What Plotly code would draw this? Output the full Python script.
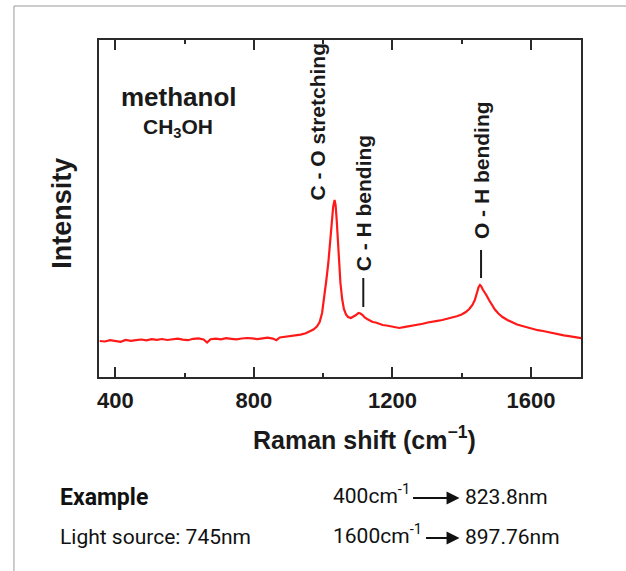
import plotly.graph_objects as go

W, H = 626, 571

# ---- data ----
raman_shift = [355, 370, 385, 400, 415, 430, 445, 460, 475, 490, 505, 520, 535, 550, 565,
               580, 595, 610, 625, 640, 655, 665, 675, 690, 705, 720, 735, 750, 765, 780,
               795, 810, 825, 840, 855, 865, 875, 890, 905, 920, 935, 950, 962, 972, 982,
               990, 997, 1003, 1009, 1015, 1020, 1025, 1029, 1033, 1036, 1039, 1042, 1046,
               1050, 1055, 1060, 1066, 1072, 1080, 1088, 1095, 1102, 1108, 1114, 1120, 1127,
               1135, 1143, 1152, 1162, 1172, 1183, 1195, 1207, 1220, 1233, 1246, 1260, 1274,
               1288, 1302, 1316, 1330, 1344, 1358, 1372, 1386, 1400, 1412, 1422, 1431, 1438,
               1444, 1449, 1453, 1457, 1461, 1466, 1472, 1479, 1487, 1496, 1506, 1518, 1532,
               1546, 1560, 1575, 1590, 1605, 1620, 1635, 1650, 1665, 1680, 1695, 1710, 1725,
               1740, 1745]
intensity = [36.0, 35.5, 36.8, 36.0, 35.2, 37.0, 36.2, 36.8, 37.5, 36.6, 37.8, 37.2, 38.0, 37.0, 37.8,
             38.3, 37.4, 36.8, 38.2, 38.6, 37.5, 34.5, 37.8, 38.4, 37.6, 38.8, 38.2, 37.7, 38.5, 39.0,
             38.6, 37.9, 38.7, 39.3, 38.4, 36.8, 39.5, 40.2, 40.8, 41.5, 42.4, 43.8, 45.5, 47.5, 50.5,
             55.0, 64.0, 78.0, 96.0, 114.0, 134.0, 155.0, 170.0, 177.0, 172.0, 158.0, 138.0, 114.0,
             94.0, 78.0, 68.0, 62.5, 60.0, 59.0, 60.5, 62.0, 64.0, 63.5, 62.0, 59.5, 58.0,
             56.5, 55.0, 54.5, 53.0, 52.0, 51.5, 50.5, 49.5, 49.0, 49.8, 50.5, 51.2, 52.5,
             53.2, 54.5, 55.0, 56.2, 57.0, 58.0, 59.5, 60.8, 62.5, 65.0, 68.0, 72.0, 77.0,
             84.0, 90.0, 92.0, 90.5, 87.5, 85.0, 81.5, 77.0, 72.0, 67.5, 63.5, 60.0, 57.0,
             54.8, 52.5, 51.0, 49.5, 48.0, 46.8, 46.0, 44.8, 43.5, 42.8, 41.6, 40.8, 39.8,
             39.0, 38.8]

x_range = [352, 1745]
y_range = [0, 337]
tick_vals = [400, 800, 1200, 1600]
tick_text = ["<b>400</b>", "<b>800</b>", "<b>1200</b>", "<b>1600</b>"]
minor_tick_vals = [600, 1000, 1400]

peak_labels = ["C - O stretching", "C - H bending", "O - H bending"]
peak_label_x = [981, 1116, 1456]
peak_label_y = [255, 174, 207]
marker_x = [1116, 1456]
marker_y0 = [70, 99]
marker_y1 = [99, 127]

def px(x):
    return x / W

def py(y):
    return 1 - y / H

fig = go.Figure()
fig.add_trace(go.Scatter(x=raman_shift, y=intensity, mode="lines",
                         line=dict(color="#ff1a1a", width=2.2), hoverinfo="skip",
                         showlegend=False))

fig.update_layout(
    width=W, height=H, margin=dict(l=0, r=0, t=0, b=0),
    paper_bgcolor="white", plot_bgcolor="white",
    font=dict(family="Liberation Sans, Arial, sans-serif", color="#1a1a1a"),
    xaxis=dict(domain=[px(97), px(581)], range=x_range, showgrid=False, zeroline=False,
               showline=True, linewidth=2, linecolor="#2a2a2a", mirror="ticks",
               ticks="inside", ticklen=10, tickwidth=2, tickcolor="#2a2a2a",
               tickvals=tick_vals, ticktext=tick_text, ticklabelstandoff=3,
               tickfont=dict(size=22, color="#1a1a1a"),
               minor=dict(ticks="inside", ticklen=4, tickwidth=2, tickcolor="#2a2a2a",
                          tickvals=minor_tick_vals)),
    yaxis=dict(domain=[py(377), py(40)], range=y_range, showgrid=False, zeroline=False,
               showline=True, linewidth=2, linecolor="#2a2a2a", mirror=True,
               showticklabels=False, ticks=""),
)

# outer gray frame
fig.add_shape(type="line", xref="paper", yref="paper", x0=px(12), x1=1, y0=py(6), y1=py(6),
              line=dict(color="#9a9a9a", width=1))
fig.add_shape(type="line", xref="paper", yref="paper", x0=px(12), x1=px(12), y0=py(6), y1=0,
              line=dict(color="#9a9a9a", width=1))

# peak marker lines
for mx, y0, y1 in zip(marker_x, marker_y0, marker_y1):
    fig.add_shape(type="line", xref="x", yref="y", x0=mx, x1=mx, y0=y0, y1=y1,
                  line=dict(color="#1a1a1a", width=2))

# peak labels
for t, lx, ly in zip(peak_labels, peak_label_x, peak_label_y):
    fig.add_annotation(x=lx, y=ly, xref="x", yref="y", text="<b>%s</b>" % t, textangle=-90,
                       showarrow=False, font=dict(size=21, color="#1a1a1a"),
                       xanchor="center", yanchor="middle")

# axis titles
fig.add_annotation(x=px(364), y=py(438), xref="paper", yref="paper",
                   text="<b>Raman shift (cm<sup>−1</sup>)</b>", showarrow=False,
                   font=dict(size=25, color="#1a1a1a"), xanchor="center", yanchor="middle")
fig.add_annotation(x=px(60), y=py(213), xref="paper", yref="paper",
                   text="<b>Intensity</b>", textangle=-90, showarrow=False,
                   font=dict(size=27, color="#1a1a1a"), xanchor="center", yanchor="middle")

# sample name
fig.add_annotation(x=px(178), y=py(97), xref="paper", yref="paper", text="<b>methanol</b>",
                   showarrow=False, font=dict(size=26, color="#1a1a1a"),
                   xanchor="center", yanchor="middle")
fig.add_annotation(x=px(177), y=py(128), xref="paper", yref="paper",
                   text="<b>CH<sub>3</sub>OH</b>", showarrow=False,
                   font=dict(size=21, color="#1a1a1a"), xanchor="center", yanchor="middle")

# example block
nf = "Roboto, Liberation Sans, sans-serif"
fig.add_annotation(x=px(56), y=py(497), xref="paper", yref="paper", text="<b>Example</b>",
                   showarrow=False, font=dict(family=nf, size=23, color="#111"),
                   xanchor="left", yanchor="middle")
fig.add_annotation(x=px(56), y=py(537), xref="paper", yref="paper", text="Light source: 745nm",
                   showarrow=False, font=dict(family=nf, size=21, color="#111"),
                   xanchor="left", yanchor="middle")
rows = [("400cm<sup>-1</sup>", "823.8nm", 497, 411), ("1600cm<sup>-1</sup>", "897.76nm", 537, 424)]
for left, right, yy, tail in rows:
    fig.add_annotation(x=px(330), y=py(yy - 3), xref="paper", yref="paper", text=left,
                       showarrow=False, font=dict(family=nf, size=21, color="#111"),
                       xanchor="left", yanchor="middle")
    fig.add_annotation(x=px(462), y=py(yy), xref="paper", yref="paper", text=right,
                       showarrow=False, font=dict(family=nf, size=21, color="#111"),
                       xanchor="left", yanchor="middle")
    fig.add_annotation(x=px(459), y=py(yy + 1), xref="paper", yref="paper", text="",
                       showarrow=True, ax=tail - 459, ay=0, arrowhead=2, arrowsize=1.3,
                       arrowwidth=2, arrowcolor="#111", standoff=0, startstandoff=0)

fig.write_html("out.html")
